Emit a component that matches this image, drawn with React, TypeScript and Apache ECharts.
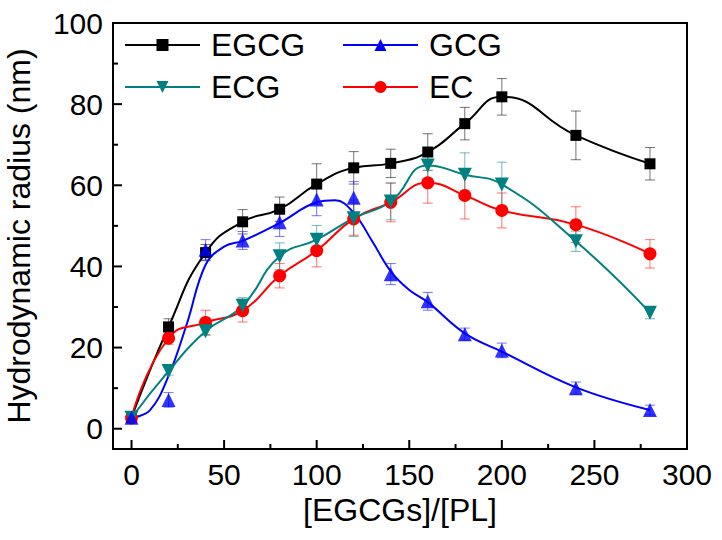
import React, { useEffect, useRef } from "react";
import * as echarts from "echarts";

const xValues = [0, 20, 40, 60, 80, 100, 120, 140, 160, 180, 200, 240, 280];
const egcg = [2.7, 25.1, 43.4, 51.0, 54.1, 60.3, 64.3, 65.4, 68.2, 75.2, 81.8, 72.3, 65.3];
const egcgErr = [0.5, 2, 2, 3, 3, 5, 4, 3.5, 4.5, 4, 4.5, 6, 4];
const gcg = [2.7, 7.1, 44.1, 46.4, 50.9, 56.5, 56.9, 38.1, 31.4, 23.3, 19.3, 10.0, 4.6];
const gcgErr = [0.5, 1.8, 2.5, 2.2, 3.5, 4, 4, 2.6, 2.2, 1.5, 1.8, 1.5, 1.2];
const ecg = [2.7, 14.2, 24.0, 30.3, 42.5, 46.6, 51.9, 56.0, 64.9, 62.6, 60.2, 46.2, 28.6];
const ecgErr = [0.5, 1, 1, 2, 3.3, 3.5, 4.5, 4.5, 3.5, 5.4, 5.5, 2.5, 1.5];
const ec = [2.7, 22.3, 26.2, 29.1, 37.7, 43.9, 51.7, 55.8, 60.6, 57.5, 53.8, 50.3, 43.1];
const ecErr = [0.5, 1.5, 3, 2.8, 3, 4, 4, 4.8, 5, 5.8, 4.3, 4.4, 3.5];

// GCG fitted (B-spline) curve
const gcgCurveX = [0, 10, 20, 30, 40, 50, 60, 80, 100, 110, 120, 130, 140, 150, 160, 180, 200, 240, 280];
const gcgCurve = [2.6, 4.6, 13.0, 26.0, 40.4, 44.9, 46.3, 50.7, 55.8, 56.3, 53.2, 46.2, 38.8, 34.2, 31.2, 23.5, 19.0, 10.2, 4.6];

const xMajorTicks = [0, 50, 100, 150, 200, 250, 300];
const xMinorTicks = [25, 75, 125, 175, 225, 275];
const yMajorTicks = [0, 20, 40, 60, 80, 100];
const yMinorTicks = [10, 30, 50, 70, 90];

const FONT = "'Liberation Sans', Arial, sans-serif";

type Def = {
  name: string;
  values: number[];
  err: number[];
  color: string;
  symbol: string;
  size: number;
  rotate: number;
  curveX?: number[];
  curve?: number[];
};

const seriesDefs: Def[] = [
  { name: "EGCG", values: egcg, err: egcgErr, color: "#000000", symbol: "rect", size: 11, rotate: 0 },
  { name: "GCG", values: gcg, err: gcgErr, color: "#0000ff", symbol: "triangle", size: 14, rotate: 0, curveX: gcgCurveX, curve: gcgCurve },
  { name: "EC", values: ec, err: ecErr, color: "#ff0000", symbol: "circle", size: 13, rotate: 0 },
  { name: "ECG", values: ecg, err: ecgErr, color: "#008080", symbol: "triangle", size: 14, rotate: 180 },
];

export default function App() {
  const ref = useRef<HTMLDivElement>(null);
  useEffect(() => {
    if (!ref.current) return;
    const chart = echarts.init(ref.current, null, { renderer: "svg" });

    const lineSeries: any[] = [];
    seriesDefs.forEach((s) => {
      if (s.curve && s.curveX) {
        lineSeries.push({
          name: s.name,
          type: "line",
          data: s.curveX.map((x, i) => [x, s.curve![i]]),
          smooth: 0.4,
          symbol: s.symbol,
          symbolSize: s.size,
          symbolRotate: s.rotate,
          showSymbol: false,
          lineStyle: { color: s.color, width: 2 },
          itemStyle: { color: s.color },
          z: 3,
        });
        lineSeries.push({
          name: s.name,
          type: "scatter",
          data: xValues.map((x, i) => [x, s.values[i]]),
          symbol: s.symbol,
          symbolSize: s.size,
          symbolRotate: s.rotate,
          itemStyle: { color: s.color },
          z: 4,
        });
      } else {
        lineSeries.push({
          name: s.name,
          type: "line",
          data: xValues.map((x, i) => [x, s.values[i]]),
          smooth: 0.5,
          symbol: s.symbol,
          symbolSize: s.size,
          symbolRotate: s.rotate,
          lineStyle: { color: s.color, width: 2 },
          itemStyle: { color: s.color },
          z: 3,
        });
      }
    });

    const errSeries = seriesDefs.map((s) => ({
      name: s.name + "-err",
      type: "custom",
      data: xValues.map((x, i) => [x, s.values[i], s.err[i]]),
      encode: { x: 0, y: 1 },
      z: 2,
      renderItem: (params: any, api: any) => {
        const x = api.value(0);
        const y = api.value(1);
        const e = api.value(2);
        const top = api.coord([x, y + e]);
        const bot = api.coord([x, y - e]);
        const hw = 5;
        const style = { stroke: s.color, lineWidth: 1, opacity: 0.55 };
        return {
          type: "group",
          children: [
            { type: "line", shape: { x1: top[0], y1: top[1], x2: bot[0], y2: bot[1] }, style },
            { type: "line", shape: { x1: top[0] - hw, y1: top[1], x2: top[0] + hw, y2: top[1] }, style },
            { type: "line", shape: { x1: bot[0] - hw, y1: bot[1], x2: bot[0] + hw, y2: bot[1] }, style },
          ],
        };
      },
    }));

    // axis tick marks (inside), positioned through the axis scales
    const tickData = [
      ...xMajorTicks.map((v) => [v, 0, 0, 9]),
      ...xMinorTicks.map((v) => [v, 0, 0, 5]),
      ...yMajorTicks.map((v) => [0, v, 1, 9]),
      ...yMinorTicks.map((v) => [0, v, 1, 5]),
    ];
    const tickSeries = {
      name: "ticks",
      type: "custom",
      data: tickData,
      encode: { x: 0, y: 1 },
      clip: false,
      silent: true,
      z: 5,
      renderItem: (params: any, api: any) => {
        const cs = params.coordSys;
        const isY = api.value(2) === 1;
        const len = api.value(3);
        const style = { stroke: "#000", lineWidth: 2 };
        if (!isY) {
          const px = api.coord([api.value(0), api.value(1)])[0];
          const by = cs.y + cs.height;
          return { type: "line", shape: { x1: px, y1: by, x2: px, y2: by - len }, style };
        }
        const py = api.coord([api.value(0), api.value(1)])[1];
        const lx = cs.x;
        return { type: "line", shape: { x1: lx, y1: py, x2: lx + len, y2: py }, style };
      },
    };

    const legendPos = [
      { name: "EGCG", left: 124, top: 29 },
      { name: "GCG", left: 342, top: 29 },
      { name: "ECG", left: 124, top: 71 },
      { name: "EC", left: 342, top: 71 },
    ];

    const legends = legendPos.map((l) => ({
      data: [l.name],
      left: l.left,
      top: l.top,
      itemWidth: 75,
      itemHeight: 15,
      padding: 0,
      textStyle: { fontSize: 32, fontFamily: FONT, color: "#000", padding: [0, 0, 0, 6] },
    }));

    chart.setOption({
      animation: false,
      backgroundColor: "#ffffff",
      grid: {
        left: 113,
        top: 23,
        right: 35,
        bottom: 91,
        containLabel: false,
        outerBoundsMode: "none",
        show: true,
        borderColor: "#000",
        borderWidth: 2,
        backgroundColor: "transparent",
      },
      legend: legends,
      xAxis: {
        type: "value",
        min: -10,
        max: 300,
        name: "[EGCGs]/[PL]",
        nameLocation: "middle",
        nameGap: 32,
        nameTextStyle: { fontSize: 32, fontFamily: FONT, color: "#000" },
        axisLine: { show: true, onZero: false, lineStyle: { color: "#000", width: 2 } },
        axisTick: { show: false },
        axisLabel: { show: true, customValues: xMajorTicks, margin: 10, fontSize: 30, fontFamily: FONT, color: "#000" },
        splitLine: { show: false },
      },
      yAxis: {
        type: "value",
        min: -5,
        max: 100,
        name: "Hydrodynamic radius (nm)",
        nameLocation: "middle",
        nameGap: 78,
        nameTextStyle: { fontSize: 32, fontFamily: FONT, color: "#000" },
        axisLine: { show: true, onZero: false, lineStyle: { color: "#000", width: 2 } },
        axisTick: { show: false },
        axisLabel: { show: true, customValues: yMajorTicks, margin: 10, fontSize: 30, fontFamily: FONT, color: "#000" },
        splitLine: { show: false },
      },
      series: [...errSeries, ...lineSeries, tickSeries],
    });

    return () => chart.dispose();
  }, []);

  return (
    <div
      ref={ref}
      style={{ position: "fixed", left: 0, top: 0, width: 722, height: 540, background: "#fff" }}
    />
  );
}
